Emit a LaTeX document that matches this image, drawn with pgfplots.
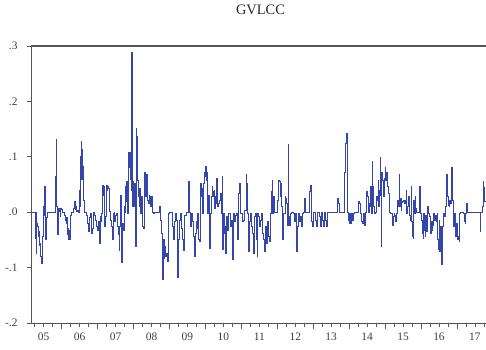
\documentclass[border=0pt]{standalone}
\usepackage{fontspec}
\setmainfont{Liberation Serif}
\usepackage{pgfplots}
\usepackage{pgfplotstable}
\usetikzlibrary{calc}
\pgfplotsset{compat=1.18}
\definecolor{evblue}{RGB}{52,70,172}
\definecolor{axgray}{RGB}{85,85,85}
% x: months since January 2005, y: GVLCC value
\pgfplotstableread{
m v
1.75 0
1.97 0
2.75 0
3.08 -0.047
3.30 0
3.42 -0.075
3.64 -0.020
3.86 -0.026
4.08 -0.044
4.30 -0.035
4.53 -0.060
4.75 -0.057
4.97 -0.080
5.30 -0.092
5.53 -0.060
5.64 -0.044
5.86 0.010
6.08 -0.005
6.19 0.046
6.42 0.000
6.64 -0.049
6.86 -0.010
7.08 0
9.42 0
9.64 0
9.75 0.064
9.97 0.010
10.08 0.132
10.30 0.010
10.53 -0.041
10.75 0.005
10.97 0.007
11.19 0.002
11.42 -0.008
11.64 0.007
11.97 0.005
12.19 0
12.53 0
12.86 -0.005
13.08 -0.014
13.42 -0.020
13.64 -0.010
13.86 -0.041
14.08 -0.030
14.19 -0.049
14.53 -0.032
14.75 -0.049
14.97 -0.005
15.30 0
15.64 0
15.97 0.007
16.19 0.019
16.42 0.005
16.64 0.010
16.97 0.002
17.42 0.004
17.75 0
17.97 0.010
18.08 0.040
18.19 0.010
18.30 0.100
18.42 0.060
18.53 0.128
18.64 0.080
18.75 0.113
18.86 0.070
18.97 0.100
19.08 0.060
19.19 0.083
19.42 0.022
19.64 0
20.08 0
20.30 -0.005
20.53 -0.020
20.86 -0.035
21.19 -0.023
21.42 -0.010
21.64 -0.002
21.97 -0.038
22.30 -0.029
22.53 0
22.86 -0.005
23.30 -0.014
23.64 -0.026
23.97 -0.032
24.19 -0.017
24.53 -0.056
24.86 -0.008
25.08 -0.017
25.42 -0.002
25.64 0.049
25.86 0.030
25.97 0.046
26.19 0
26.42 -0.026
26.64 -0.008
26.86 0.020
26.97 0.049
27.19 0.040
27.42 0.046
27.64 0.043
27.86 0.034
28.08 0.001
28.42 -0.014
28.75 -0.026
28.97 -0.050
29.19 -0.002
29.53 0
29.75 -0.017
30.08 -0.005
30.30 -0.002
30.53 -0.026
30.86 -0.041
31.19 -0.069
31.42 -0.026
31.64 0.031
31.86 -0.010
31.97 -0.091
32.19 -0.030
32.30 -0.020
32.53 -0.032
32.86 0.010
33.08 0.000
33.30 0.046
33.53 0.020
33.64 0.055
33.86 0.030
33.97 -0.002
34.19 0.060
34.30 0.107
34.53 0.080
34.75 0.107
34.97 0.060
35.08 0.077
35.19 0.040
35.30 0.288
35.53 0.010
35.64 0.010
35.86 0.055
36.08 0.020
36.19 0.010
36.42 0.052
36.64 0.005
36.75 -0.062
36.86 0.000
36.97 0.152
37.08 0.060
37.19 0.137
37.42 0.058
37.64 0.028
37.86 0.010
38.08 0.043
38.30 0.010
38.42 -0.002
38.64 0.028
38.86 0.005
38.97 -0.026
39.15 -0.029
39.48 0.004
39.71 0.071
40.04 0.028
40.26 0.068
40.59 0.022
40.82 0.016
41.15 0.031
41.37 0.028
41.71 0.010
41.93 0.028
42.26 0.000
42.48 -0.002
42.82 0
43.59 0
44.37 0
44.71 0.010
44.93 -0.014
45.26 -0.038
45.48 -0.086
45.71 -0.122
45.93 -0.050
46.15 -0.083
46.37 -0.062
46.71 -0.080
46.93 -0.074
47.15 -0.089
47.48 -0.002
47.82 0
48.59 0
48.93 -0.026
49.15 -0.044
49.48 -0.050
49.71 -0.017
50.04 -0.002
50.26 -0.014
50.59 -0.118
50.82 -0.050
51.15 -0.026
51.37 -0.014
51.71 -0.002
52.04 -0.029
52.26 -0.050
52.59 -0.069
52.82 -0.035
53.15 -0.005
53.59 0
53.93 0
54.26 0.055
54.59 0
54.93 -0.026
55.26 -0.002
55.59 -0.017
56.04 -0.044
56.37 -0.080
56.71 -0.038
56.93 -0.017
57.26 -0.029
57.48 -0.002
57.82 -0.050
58.04 -0.053
58.26 -0.026
58.48 0.052
58.71 0.028
58.93 0.043
59.15 -0.002
59.48 0.052
59.71 0.071
59.93 0.064
60.15 0.083
60.37 0.058
60.59 0.071
60.82 -0.002
61.15 0.031
61.37 -0.065
61.71 -0.002
62.04 0.028
62.26 0.046
62.48 0.037
62.71 0.028
62.93 0.040
63.15 0.007
63.37 0.028
63.59 0.016
63.82 0.061
64.04 0.010
64.37 0.016
64.71 0.022
64.93 0.034
65.26 -0.002
65.59 0.064
65.82 -0.068
66.04 -0.002
66.37 -0.038
66.59 -0.026
66.82 -0.074
67.15 -0.008
67.48 -0.032
67.82 -0.002
68.26 -0.026
68.59 -0.014
68.93 -0.050
69.15 -0.086
69.48 -0.002
69.82 -0.017
70.15 -0.005
70.48 -0.002
70.82 -0.050
71.15 0.034
71.37 0.052
71.59 -0.002
71.93 -0.002
72.26 -0.017
72.48 -0.017
72.82 -0.014
73.15 0.004
73.59 0.068
73.82 0.052
74.04 -0.002
74.37 -0.071
74.71 -0.017
75.04 -0.002
75.37 -0.026
75.71 -0.038
76.04 -0.074
76.37 -0.008
76.71 -0.002
76.93 -0.050
77.21 -0.079
77.44 -0.002
77.77 -0.008
77.99 -0.026
78.21 -0.014
78.55 -0.002
78.88 -0.026
79.10 -0.038
79.32 -0.050
79.66 -0.071
79.99 -0.026
80.21 -0.050
80.44 -0.056
80.77 -0.017
80.99 -0.044
81.32 -0.053
81.55 -0.026
81.77 -0.002
81.99 0.037
82.21 0.058
82.44 -0.002
82.66 0.028
82.99 0
84.10 0
84.21 0.022
84.44 0.058
84.66 0.055
84.88 0.028
85.10 0.052
85.32 0.010
85.55 -0.014
85.77 -0.050
86.10 -0.002
86.44 -0.002
86.66 0.028
86.88 0.025
87.21 0.016
87.44 -0.023
87.66 0.122
87.88 -0.008
88.10 -0.023
88.32 -0.002
88.66 0
89.10 0
89.44 -0.002
89.77 -0.017
90.10 -0.002
90.32 -0.071
90.66 -0.026
90.99 -0.002
91.32 -0.017
91.77 -0.008
92.10 -0.026
92.44 -0.002
92.77 0
92.99 0.025
93.32 0.025
93.55 0
94.32 0
94.66 0.037
94.99 0.049
95.32 0
95.55 -0.017
95.77 -0.026
96.10 0
96.55 0
96.88 -0.014
97.21 -0.026
97.55 0
97.99 -0.008
98.32 -0.026
98.66 0
99.10 -0.014
99.44 -0.026
99.77 0
100.21 -0.014
100.55 -0.026
100.88 0
103.77 0
103.99 0.025
104.32 0.016
104.66 0
106.21 0
106.44 0.071
106.66 0.077
106.88 0.125
107.10 0.143
107.32 0.071
107.55 0
107.77 -0.014
107.99 -0.020
108.21 -0.002
108.44 -0.020
108.77 -0.002
109.10 -0.014
109.44 -0.002
109.77 0
110.77 0
111.10 0.019
111.32 0.016
111.66 -0.002
111.99 -0.017
112.44 -0.020
112.77 -0.002
113.10 -0.023
113.32 -0.002
113.55 0
113.88 0.037
114.21 0.028
114.55 0
114.88 0.016
114.93 0.010
115.16 0.046
115.49 -0.002
115.71 0.092
115.93 0.046
116.27 0.010
116.60 -0.002
116.82 0
117.16 0.028
117.38 0.022
117.71 0.058
117.93 0.010
118.16 0.040
118.38 0.098
118.60 0.030
118.71 -0.062
118.93 0.071
119.16 0.058
119.38 0.052
119.60 0.028
119.82 0.061
120.04 0.080
120.27 0.058
120.49 0.071
120.71 0.055
120.93 0.046
121.16 0.034
121.38 0.007
121.60 0
121.82 -0.002
122.16 -0.002
122.38 -0.017
122.60 -0.023
122.82 -0.008
123.04 -0.002
123.27 -0.005
123.49 -0.017
123.71 -0.002
124.04 0
124.27 0.022
124.49 0.010
124.71 0.068
124.93 0.010
125.16 0.025
125.38 0.004
125.60 0.017
125.82 0.019
126.16 0.022
126.49 0.016
126.82 0.022
127.04 0.040
127.27 -0.002
127.60 0.010
127.93 0.028
128.16 -0.005
128.49 -0.014
128.71 0.046
128.93 -0.017
129.16 -0.044
129.38 -0.047
129.60 0.022
129.82 -0.002
130.04 0.028
130.27 0.007
130.60 0
131.27 0
131.60 0.046
131.93 -0.002
132.16 -0.014
132.38 -0.038
132.71 -0.047
132.93 -0.002
133.16 -0.032
133.38 -0.044
133.60 -0.005
133.82 -0.035
134.04 -0.026
134.27 0.010
134.49 -0.002
134.71 -0.008
135.04 -0.023
135.27 -0.038
135.49 -0.017
135.71 -0.032
135.93 -0.023
136.16 -0.002
136.38 -0.005
136.60 -0.014
136.82 -0.005
137.04 -0.017
137.38 -0.002
137.60 -0.050
137.82 -0.068
138.04 -0.014
138.27 -0.071
138.49 -0.026
138.71 -0.044
138.93 -0.095
139.16 -0.026
139.38 -0.017
139.60 -0.002
139.82 -0.008
140.04 -0.002
140.27 0.010
140.49 0.068
140.71 0.052
140.93 0.028
141.16 0.013
141.38 0.010
141.60 0.022
141.82 0.016
142.04 0.046
142.27 0.080
142.49 0.022
142.71 -0.002
142.93 -0.026
143.16 -0.002
143.38 -0.029
143.60 -0.044
143.82 -0.020
144.04 -0.035
144.27 -0.050
144.49 -0.044
144.71 -0.053
144.93 -0.002
145.16 0
145.82 0
146.04 -0.002
146.27 -0.002
146.49 -0.017
146.71 -0.020
146.93 -0.002
147.16 0.016
147.38 0.015
147.60 0
151.60 0
151.80 -0.035
152.00 0
152.40 0.010
152.70 0.055
153.00 0.045
153.30 0.020
153.70 0.050
}\gvlcc
\begin{document}
\begin{tikzpicture}
\begin{axis}[
  name=ax,
  scale only axis,
  width=455bp, height=277bp,
  xmin=1.75, xmax=153.7,
  ymin=-0.2, ymax=0.3,
  axis line style={draw=none},
  tick align=outside,
  xtick pos=bottom, ytick pos=left,
  xtick={12,24,...,144},
  xticklabels={},
  minor xtick={3,6,...,153},
  extra x ticks={6,18,...,150},
  extra x tick labels={05,06,07,08,09,10,11,12,13,14,15,16,17},
  extra x tick style={major tick length=0pt},
  major tick length=6bp,
  minor tick length=3.5bp,
  ytick={-0.2,-0.1,0,0.1,0.2,0.3},
  yticklabels={-.2,-.1,.0,.1,.2,.3},
  major y tick style={draw=none},
  minor ytick={-0.2,-0.1,0,0.1,0.2,0.3},
  every tick/.style={axgray, line width=0.8bp},
  /pgf/number format/assume math mode=true,
  ticklabel style={font=\fontsize{11.5}{13}\selectfont, text=black!75},
  xticklabel style={yshift=-6bp},
  yticklabel style={xshift=-4bp},
  title={GVLCC},
  title style={font=\fontsize{14.5}{16}\selectfont, text=black!85, at={(0.5,1)}, anchor=base, yshift=26bp, xshift=2bp},
  clip=true,
]
\addplot[evblue, line width=0.85bp, mark=none, const plot] table[x=m, y=v] {\gvlcc};
\draw[axgray, line width=1.6bp] (rel axis cs:0,1) -- (rel axis cs:1,1);
\draw[axgray, line width=1bp] (rel axis cs:0,0) -- (rel axis cs:0,1);
\draw[axgray, line width=1bp] (rel axis cs:0,0) -- (rel axis cs:1,0);
\end{axis}
\pgfresetboundingbox
\path (ax.south west) ++(-31bp,-27bp) rectangle ($(ax.north east)+(0,46bp)$);
\end{tikzpicture}
\end{document}
